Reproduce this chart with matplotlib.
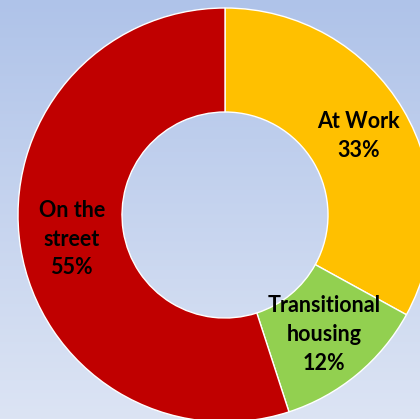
import numpy as np
import matplotlib
matplotlib.use("Agg")
import matplotlib.pyplot as plt
from matplotlib.colors import LinearSegmentedColormap

# --- data ---
categories = ["At Work", "Transitional\nhousing", "On the\nstreet"]
shares = [33, 12, 55]
colors = ["#FFC000", "#92D050", "#C00000"]

W, H = 420, 419
fig = plt.figure(figsize=(W / 100, H / 100), dpi=100)
ax = fig.add_axes([0, 0, 1, 1])

# light blue vertical gradient background
bg = LinearSegmentedColormap.from_list("bg", ["#DCE4F4", "#AFC3E9"])
grad = np.linspace(0, 1, 256).reshape(-1, 1)
ax.imshow(grad, cmap=bg, extent=[0, W, 0, H], origin="lower",
          aspect="auto", zorder=0)

labels_iter = iter(categories)


def fmt(pct):
    return f"{next(labels_iter)}\n{pct:.0f}%"


wedges, _, texts = ax.pie(
    shares, colors=colors, startangle=90, counterclock=False,
    center=(225, H - 215), radius=207, autopct=fmt, pctdistance=0.75,
    wedgeprops=dict(width=104, edgecolor="white", linewidth=1),
    textprops=dict(fontsize=15.5, fontweight="bold", family="Lato",
                   color="black", linespacing=1.45),
    frame=True,
)
ax.set_xlim(0, W)
ax.set_ylim(0, H)
ax.set_aspect("auto")
ax.axis("off")

fig.savefig("out.png", dpi=100)
